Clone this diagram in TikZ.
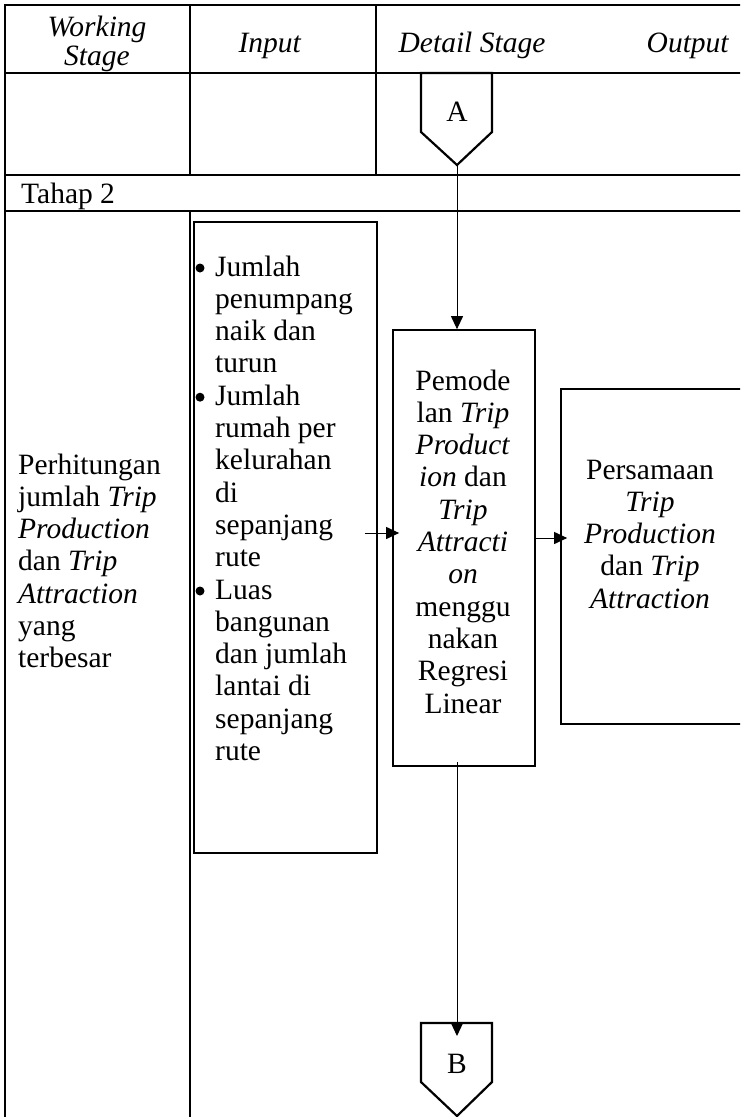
\documentclass[tikz,border=0pt]{standalone}
\usepackage{fontspec}
\setmainfont{Liberation Serif}
\usetikzlibrary{arrows.meta}
\begin{document}
\begin{tikzpicture}[x=1pt,y=-1pt,
  rule/.style={line width=2.4pt},
  box/.style={draw, line width=1.7pt, rectangle, inner sep=0pt},
  conn/.style={line width=1pt, -{Triangle[length=13pt,width=12pt]}},
  lbl/.style={inner sep=0pt, font=\fontsize{29.5}{32.3}\selectfont},
  pent/.style={line width=2.2pt, line join=miter}]
\useasboundingbox (0,0) rectangle (740,1117);
\begin{scope}
\clip (0,0) rectangle (740,1117);
% table rules
\draw[rule] (5,1130) -- (5,5) -- (760,5);
\draw[rule] (5,73) -- (760,73);
\draw[rule] (5,175) -- (760,175);
\draw[rule] (5,211) -- (760,211);
\draw[rule] (190,5) -- (190,175);
\draw[rule] (376,5) -- (376,175);
\draw[rule] (190,211) -- (190,1130);

% header
\node[lbl, anchor=base] (hWork1) at (97,36) {\textit{Working}};
\node[lbl, anchor=base] (hWork2) at (97,65) {\textit{Stage}};
\node[lbl, anchor=base] (hIn) at (270,52) {\textit{Input}};
\node[lbl, anchor=base] (hDet) at (472,52) {\textit{Detail Stage}};
\node[lbl, anchor=base] (hOut) at (688,52) {\textit{Output}};

% stage title row
\node[lbl, anchor=base west] (tahap) at (21,203) {Tahap 2};

% working stage description
\foreach \t [count=\i] in {Perhitungan, jumlah \textit{Trip}, \textit{Production}, dan \textit{Trip}, \textit{Attraction}, yang, terbesar}
  \node[lbl, anchor=base west] (ws\i) at (18,{474+32.3*(\i-1)}) {\t};

% boxes
\node[box, minimum width=183pt, minimum height=631pt] (inp) at (285.5,537.5) {};
\node[box, minimum width=142pt, minimum height=436pt] (pem) at (464,548) {};
\node[box, minimum width=209pt, minimum height=335pt] (per) at (665.5,556.5) {};

% input list
\foreach \t [count=\i] in {Jumlah, penumpang, naik dan, turun, Jumlah, rumah per, kelurahan, di, sepanjang, rute, Luas, bangunan, dan jumlah, lantai di, sepanjang, rute}
  \node[lbl, anchor=base west] (in\i) at (215,{276+32.3*(\i-1)}) {\t};
\foreach \i in {1,5,11}
  \fill (200,{276+32.3*(\i-1)-8}) circle (4.5pt);

% detail stage text
\foreach \t [count=\i] in {Pemode, lan \textit{Trip}, \textit{Product}, \textit{ion} dan, \textit{Trip}, \textit{Attracti}, \textit{on}, menggu, nakan, Regresi, Linear}
  \node[lbl, anchor=base] (pm\i) at (463,{390+32.3*(\i-1)}) {\t};

% output text
\foreach \t [count=\i] in {Persamaan, \textit{Trip}, \textit{Production}, dan \textit{Trip}, \textit{Attraction}}
  \node[lbl, anchor=base] (ps\i) at (650,{479+32.3*(\i-1)}) {\t};

% off-page connectors
\draw[pent] (421,73) -- (492,73) -- (492,132) -- (457,165) -- (421,132) -- cycle;
\node[lbl, anchor=base] (A) at (457,121) {A};
\coordinate (Atip) at (457,165);
\draw[pent] (421,1023) -- (492,1023) -- (492,1082) -- (457,1116) -- (421,1082) -- cycle;
\node[lbl, anchor=base] (B) at (457,1073) {B};
\coordinate (Bin) at (457,1036);

% connectors
\coordinate (inArr) at (365,533);
\coordinate (pmArr) at (535,538);
\coordinate (pmBot) at (457,762);
\draw[conn] (Atip) -- (pem.north -| Atip);
\draw[conn] (inArr) -- ([xshift=7pt]pem.west |- inArr);
\draw[conn] (pmArr) -- ([xshift=7pt]per.west |- pmArr);
\draw[conn] (pmBot) -- (Bin);
\end{scope}
\end{tikzpicture}
\end{document}
